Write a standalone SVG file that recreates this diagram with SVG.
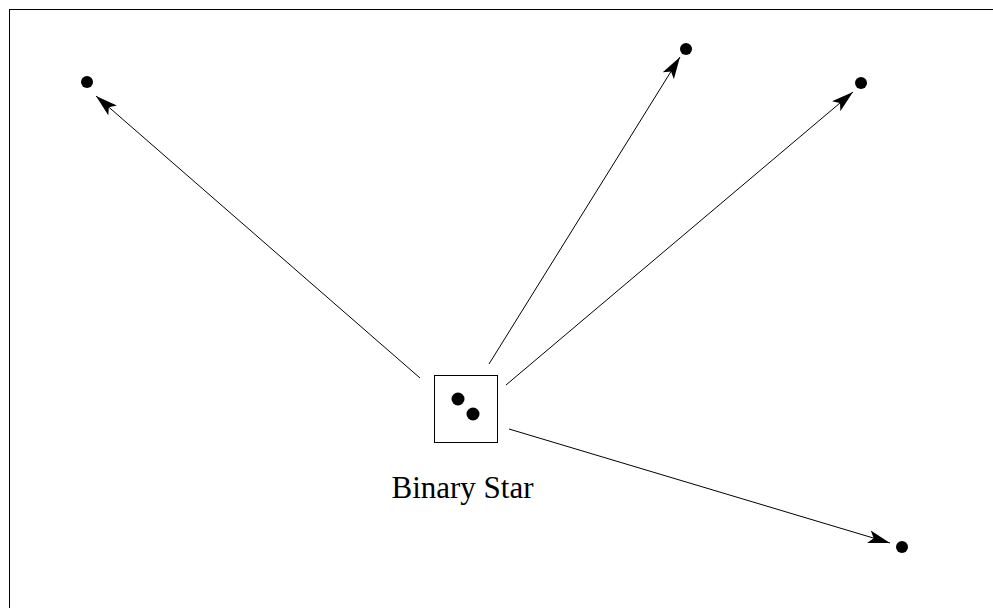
<svg xmlns="http://www.w3.org/2000/svg" width="993" height="608" viewBox="0 0 993 608">
<style>
.edge{stroke:#000;stroke-width:1;fill:none;marker-end:url(#ah)}
.dot{fill:#000}
.lbl{font-family:"Liberation Serif",serif;font-size:31px;fill:#000}
</style>
<defs>
<marker id="ah" markerWidth="22" markerHeight="14" refX="22" refY="7" orient="auto" markerUnits="userSpaceOnUse">
<path d="M0,0.5 L22,7 L0,13.5 L5,7 Z" fill="#000"/>
</marker>
</defs>
<rect x="0" y="0" width="993" height="608" fill="#fff"/>
<rect x="9.5" y="9.5" width="1000" height="620" fill="none" stroke="#000" stroke-width="1"/>
<g id="edges">
<line class="edge" x1="420" y1="378" x2="96" y2="96"/>
<line class="edge" x1="489" y1="364" x2="680" y2="57"/>
<line class="edge" x1="506" y1="385" x2="853" y2="92"/>
<line class="edge" x1="509" y1="429" x2="890" y2="543"/>
</g>
<g id="binary">
<rect x="434.5" y="375.5" width="63" height="67" fill="#fff" stroke="#000" stroke-width="1"/>
<circle class="dot" cx="458" cy="399" r="6.5"/>
<circle class="dot" cx="473" cy="414" r="6.5"/>
<text class="lbl" x="462.5" y="498" text-anchor="middle">Binary Star</text>
</g>
<g id="p1"><circle class="dot" cx="87" cy="82" r="6"/></g>
<g id="p2"><circle class="dot" cx="686" cy="49" r="6"/></g>
<g id="p3"><circle class="dot" cx="861" cy="83" r="6"/></g>
<g id="p4"><circle class="dot" cx="902" cy="547" r="6"/></g>
</svg>
